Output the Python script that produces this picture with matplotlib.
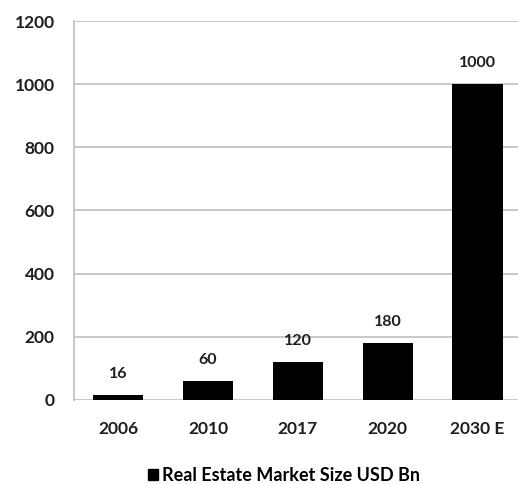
import matplotlib
matplotlib.use("Agg")
import matplotlib.pyplot as plt
from matplotlib.patches import Patch

plt.rcParams['font.family'] = ['Lato', 'DejaVu Sans']

years = ["2006", "2010", "2017", "2020", "2030 E"]
market_size = [16, 60, 120, 180, 1000]
series_name = "Real Estate Market Size USD Bn"
y_ticks = [0, 200, 400, 600, 800, 1000, 1200]

text_color = "#1e1e1e"

fig = plt.figure(figsize=(5.18, 4.84), dpi=100)
ax = fig.add_axes([0.143, 0.1736, 0.857, 0.783])

x = list(range(len(years)))
ax.bar(x, market_size, width=0.56, color="black", zorder=3)
for xi, v in zip(x, market_size):
    ax.text(xi, v + 44, str(v), ha="center", va="bottom", fontsize=11.5,
            fontweight="bold", color=text_color)

ax.set_ylim(0, 1200)
ax.set_xlim(-0.49, 4.45)
ax.set_yticks(y_ticks)
ax.set_yticklabels([str(t) for t in y_ticks], fontsize=12.5, fontweight="bold", color=text_color)
ax.set_xticks(x)
ax.set_xticklabels(years, fontsize=12.5, fontweight="bold", color=text_color)
ax.tick_params(axis="both", length=0)
ax.tick_params(axis="y", pad=14)
ax.tick_params(axis="x", pad=15)

ax.yaxis.grid(True, color="#c8c8c8", linewidth=1.4, zorder=0)
for side in ["top", "right", "bottom"]:
    ax.spines[side].set_visible(False)
ax.spines["left"].set_color("#c8c8c8")
ax.spines["left"].set_linewidth(1.4)

fig.legend(handles=[Patch(color="black", label=series_name)],
           loc="center", bbox_to_anchor=(0.548, 0.018), frameon=False,
           handlelength=0.55, handleheight=0.55, handletextpad=0.25,
           prop={"weight": "bold", "size": 13})

fig.savefig("out.png", dpi=100, facecolor="white")
